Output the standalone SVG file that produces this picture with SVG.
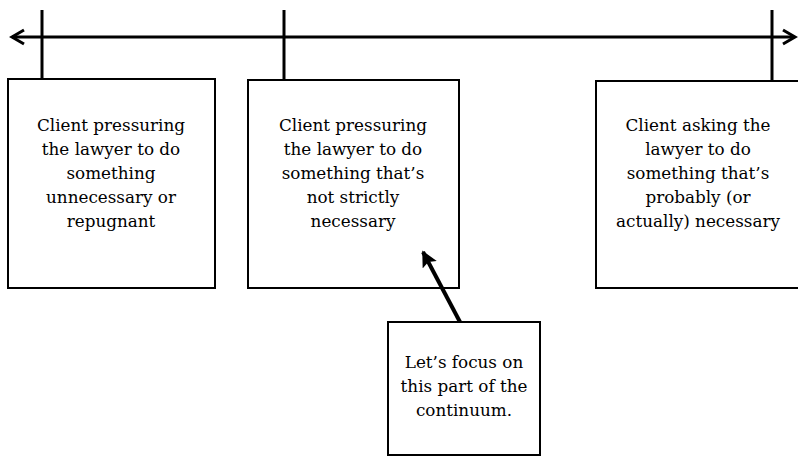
<svg xmlns="http://www.w3.org/2000/svg" width="798" height="462" viewBox="0 0 798 462">
<defs>
<style>
.box{fill:#fff;stroke:#000;stroke-width:2}
.ln{stroke:#000;stroke-width:3;fill:none}
.t{font-family:"DejaVu Serif","Liberation Serif",serif;font-size:16.8px;fill:#000;text-anchor:middle}
</style>
<marker id="ah" viewBox="0 0 10 10" refX="9" refY="5" markerWidth="4" markerHeight="4" orient="auto" markerUnits="strokeWidth">
<path d="M0,0 L10,5 L0,10 L2,5 z" fill="#000"/>
</marker>
</defs>
<rect width="798" height="462" fill="#fff"/>
<g id="node1">
<rect class="box" x="8" y="79" width="207" height="209"/>
<text class="t" x="111" y="131">Client pressuring</text>
<text class="t" x="111" y="155">the lawyer to do</text>
<text class="t" x="111" y="179">something</text>
<text class="t" x="111" y="203">unnecessary or</text>
<text class="t" x="111" y="227">repugnant</text>
</g>
<g id="node2">
<rect class="box" x="248" y="80" width="211" height="208"/>
<text class="t" x="353" y="131">Client pressuring</text>
<text class="t" x="353" y="155">the lawyer to do</text>
<text class="t" x="353" y="179">something that’s</text>
<text class="t" x="353" y="203">not strictly</text>
<text class="t" x="353" y="227">necessary</text>
</g>
<g id="node3">
<rect class="box" x="596" y="81" width="210" height="207"/>
<text class="t" x="698" y="131">Client asking the</text>
<text class="t" x="698" y="155">lawyer to do</text>
<text class="t" x="698" y="179">something that’s</text>
<text class="t" x="698" y="203">probably (or</text>
<text class="t" x="698" y="227">actually) necessary</text>
</g>
<g id="node4">
<rect class="box" x="388" y="322" width="152" height="133"/>
<text class="t" x="464" y="368">Let’s focus on</text>
<text class="t" x="464" y="392">this part of the</text>
<text class="t" x="464" y="416">continuum.</text>
</g>
<g id="connectors">
<line class="ln" x1="12" y1="37" x2="794" y2="37"/>
<polyline class="ln" points="24,30 12,37 24,44"/>
<polyline class="ln" points="783,30 795,37 783,44"/>
<line class="ln" x1="42" y1="10" x2="42" y2="79"/>
<line class="ln" x1="284" y1="10" x2="284" y2="80"/>
<line class="ln" x1="772" y1="10" x2="772" y2="81"/>
<line x1="460" y1="322" x2="423" y2="252" stroke="#000" stroke-width="4" marker-end="url(#ah)"/>
</g>
</svg>
